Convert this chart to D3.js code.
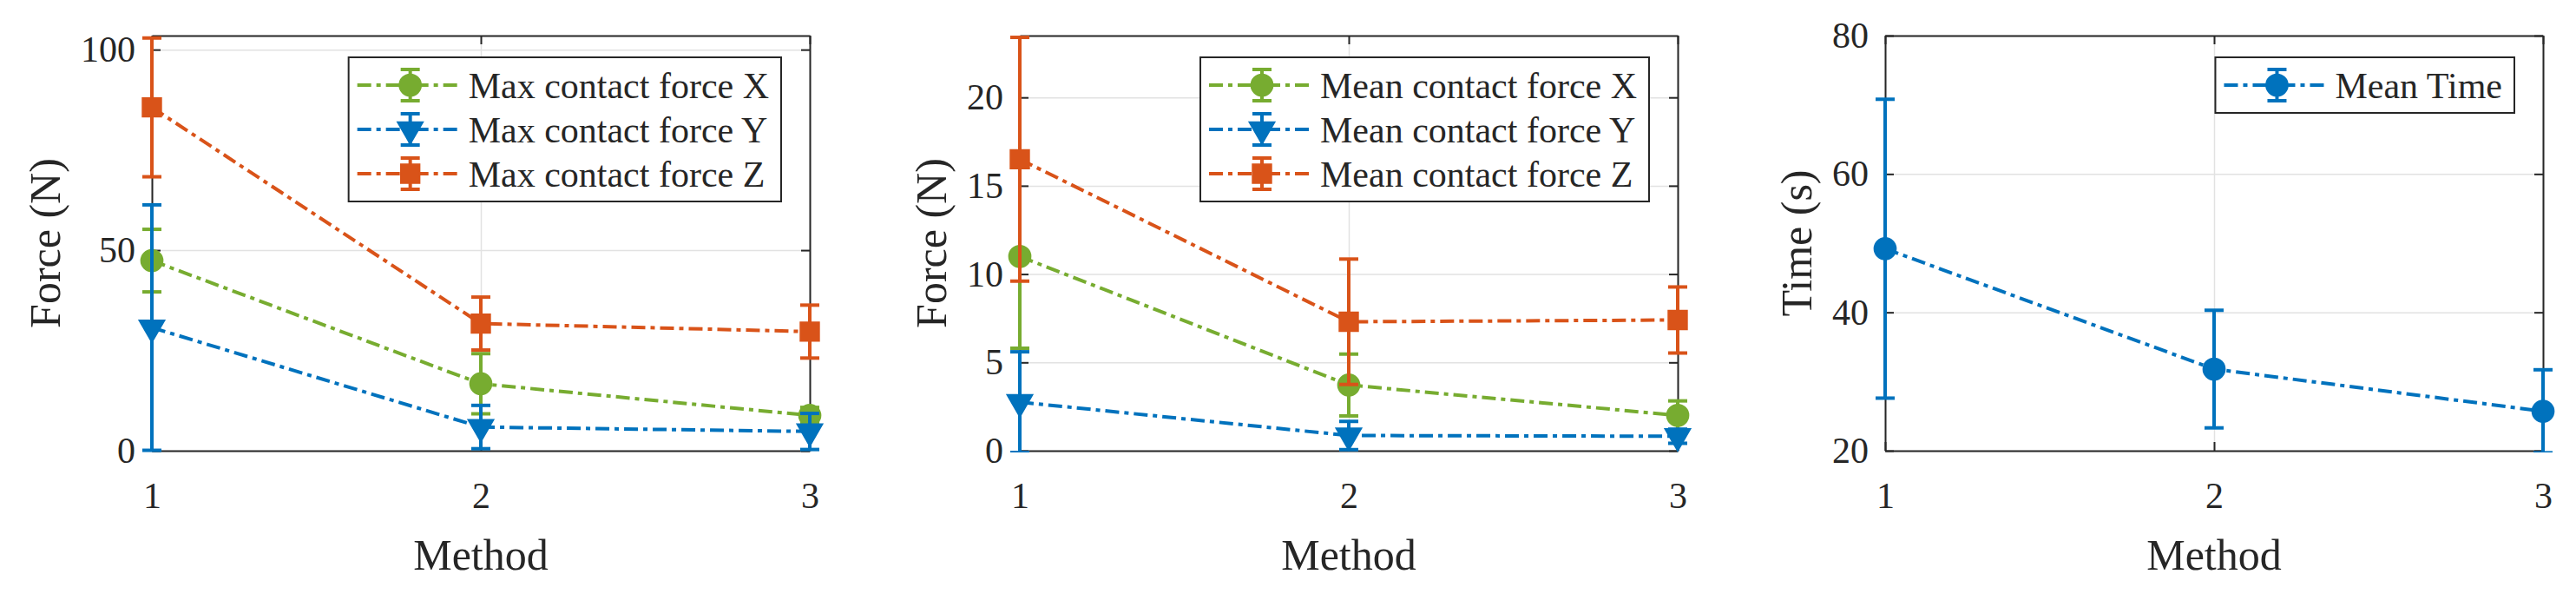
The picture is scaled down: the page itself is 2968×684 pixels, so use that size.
<!DOCTYPE html>
<html>
<head>
<meta charset="utf-8">
<script src="https://cdnjs.cloudflare.com/ajax/libs/d3/7.8.5/d3.min.js"></script>
<style>
  body { margin: 0; background: #fff; }
  svg text { font-family: "Liberation Serif", "Times New Roman", "DejaVu Serif", serif; fill: #262626; }
</style>
</head>
<body>
<div id="chart"></div>
<script>
// x categories
const methods = [1, 2, 3];
const xTicks = [1, 2, 3];

// panel 1: max contact force
const maxForceX = [47.4, 16.7, 8.8];
const maxForceXErr = [7.8, 7.5, 2.0];
const maxForceY = [30.7, 5.9, 4.8];
const maxForceYErr = [30.6, 5.4, 4.5];
const maxForceZ = [85.6, 31.7, 29.7];
const maxForceZErr = [17.3, 6.6, 6.6];
const yTicksMax = [0, 50, 100];

// panel 2: mean contact force
const meanForceX = [11.0, 3.72, 2.0];
const meanForceXErr = [5.2, 1.75, 0.82];
const meanForceY = [2.75, 0.86, 0.82];
const meanForceYErr = [2.85, 0.8, 0.4];
const meanForceZ = [16.5, 7.3, 7.4];
const meanForceZErr = [6.9, 3.55, 1.87];
const yTicksMean = [0, 5, 10, 15, 20];

// panel 3: mean time
const meanTime = [49.2, 31.8, 25.7];
const meanTimeErr = [21.6, 8.5, 6.0];
const yTicksTime = [20, 40, 60, 80];

const BLUE = "#0072BD", ORANGE = "#D95319", GREEN = "#77AC30";
const INK = "#262626";
const GRID = "#e2e2e2";

const W = 2968, H = 684;
const plotTop = 41, plotBottom = 519, plotW = 758;
const tickFont = 42, labelFont = 50;
const DASH = "16,6,5,6";

const svg = d3.select("#chart").append("svg")
  .attr("width", W)
  .attr("height", H);

const panels = [
  {
    left: 175, yDomain: [0, 103.5], yTicks: yTicksMax, yLabel: "Force (N)",
    series: [
      { name: "Max contact force X", values: maxForceX, errors: maxForceXErr, color: GREEN, marker: "circle" },
      { name: "Max contact force Y", values: maxForceY, errors: maxForceYErr, color: BLUE, marker: "triangle" },
      { name: "Max contact force Z", values: maxForceZ, errors: maxForceZErr, color: ORANGE, marker: "square" }
    ]
  },
  {
    left: 1175, yDomain: [0, 23.5], yTicks: yTicksMean, yLabel: "Force (N)",
    series: [
      { name: "Mean contact force X", values: meanForceX, errors: meanForceXErr, color: GREEN, marker: "circle" },
      { name: "Mean contact force Y", values: meanForceY, errors: meanForceYErr, color: BLUE, marker: "triangle" },
      { name: "Mean contact force Z", values: meanForceZ, errors: meanForceZErr, color: ORANGE, marker: "square" }
    ]
  },
  {
    left: 2172, yDomain: [20, 80], yTicks: yTicksTime, yLabel: "Time (s)",
    series: [
      { name: "Mean Time", values: meanTime, errors: meanTimeErr, color: BLUE, marker: "circle" }
    ]
  }
];

function markerPath(type) {
  if (type === "circle") return d3.symbol().type(d3.symbolCircle).size(500)();
  if (type === "square") return d3.symbol().type(d3.symbolSquare).size(480)();
  return d3.symbol().type(d3.symbolTriangle).size(380)();
}

function drawMarker(sel, type, color) {
  return sel.append("path")
    .attr("d", markerPath(type))
    .attr("transform", d => `translate(${d.x},${d.y})` + (type === "triangle" ? " rotate(180)" : ""))
    .attr("fill", color)
    .attr("stroke", color)
    .attr("stroke-width", 1.5);
}

panels.forEach((p, pi) => {
  const x = d3.scaleLinear().domain([1, 3]).range([p.left, p.left + plotW]);
  const y = d3.scaleLinear().domain(p.yDomain).range([plotBottom, plotTop]);
  const g = svg.append("g");

  // Grid
  g.append("g")
    .attr("class", "grid")
    .attr("transform", `translate(0,${plotBottom})`)
    .call(d3.axisBottom(x).tickValues(xTicks).tickSize(-(plotBottom - plotTop)).tickFormat(""))
    .call(s => s.select(".domain").remove());
  g.append("g")
    .attr("class", "grid")
    .attr("transform", `translate(${p.left},0)`)
    .call(d3.axisLeft(y).tickValues(p.yTicks).tickSize(-plotW).tickFormat(""))
    .call(s => s.select(".domain").remove());
  g.selectAll(".grid line").attr("stroke", GRID).attr("stroke-width", 1.5);

  // Axes (ticks inward, box on all sides)
  const axes = g.append("g");
  const xAxis = axes.append("g")
    .attr("transform", `translate(0,${plotBottom})`)
    .call(d3.axisBottom(x).tickValues(xTicks).tickSizeInner(-10).tickSizeOuter(0).tickPadding(36).tickFormat(d3.format("d")));
  const yAxis = axes.append("g")
    .attr("transform", `translate(${p.left},0)`)
    .call(d3.axisLeft(y).tickValues(p.yTicks).tickSizeInner(-10).tickSizeOuter(0).tickPadding(19).tickFormat(d3.format("d")));
  axes.append("g")
    .attr("transform", `translate(0,${plotTop})`)
    .call(d3.axisTop(x).tickValues(xTicks).tickSizeInner(-10).tickSizeOuter(0).tickFormat(""));
  axes.append("g")
    .attr("transform", `translate(${p.left + plotW},0)`)
    .call(d3.axisRight(y).tickValues(p.yTicks).tickSizeInner(-10).tickSizeOuter(0).tickFormat(""));

  axes.selectAll(".domain").attr("stroke", INK).attr("stroke-width", 2);
  axes.selectAll(".tick line").attr("stroke", INK).attr("stroke-width", 2);
  axes.selectAll(".tick text")
    .attr("font-family", "Liberation Serif")
    .attr("font-size", tickFont)
    .attr("fill", INK);

  // Axis labels
  let tickW = 0;
  yAxis.selectAll(".tick text").each(function () { tickW = Math.max(tickW, this.getComputedTextLength()); });
  svg.append("text")
    .attr("transform", `translate(${p.left - tickW - 61},${(plotTop + plotBottom) / 2}) rotate(-90)`)
    .attr("text-anchor", "middle")
    .attr("dy", "0.35em")
    .attr("font-size", labelFont)
    .text(p.yLabel);
  svg.append("text")
    .attr("x", p.left + plotW / 2)
    .attr("y", 656)
    .attr("text-anchor", "middle")
    .attr("font-size", labelFont)
    .text("Method");

  // Clip region for data
  const clipId = "clip" + pi;
  svg.append("clipPath").attr("id", clipId)
    .append("rect")
    .attr("x", p.left - 40).attr("y", plotTop - 2)
    .attr("width", plotW + 80).attr("height", plotBottom - plotTop + 4);
  const data = g.append("g").attr("clip-path", `url(#${clipId})`);

  p.series.forEach(s => {
    const pts = methods.map((m, i) => ({
      x: x(m), y: y(s.values[i]),
      lo: y(s.values[i] - s.errors[i]), hi: y(s.values[i] + s.errors[i])
    }));
    const sg = data.append("g");
    sg.append("path")
      .datum(pts)
      .attr("fill", "none")
      .attr("stroke", s.color)
      .attr("stroke-width", 4)
      .attr("stroke-dasharray", DASH)
      .attr("d", d3.line().x(d => d.x).y(d => d.y));
    sg.selectAll(".eb").data(pts).enter().append("line")
      .attr("x1", d => d.x).attr("x2", d => d.x)
      .attr("y1", d => d.lo).attr("y2", d => d.hi)
      .attr("stroke", s.color).attr("stroke-width", 4);
    ["lo", "hi"].forEach(k => {
      sg.selectAll(".cap-" + k).data(pts).enter().append("line")
        .attr("x1", d => d.x - 11).attr("x2", d => d.x + 11)
        .attr("y1", d => d[k]).attr("y2", d => d[k])
        .attr("stroke", s.color).attr("stroke-width", 4);
    });
    drawMarker(sg.selectAll(".mk").data(pts).enter(), s.marker, s.color);
  });

  // Legend
  const lg = g.append("g");
  const rowH = 51, boxTop = 66;
  const texts = p.series.map((s, i) => lg.append("text")
    .attr("y", boxTop + 6.5 + rowH / 2 + i * rowH)
    .attr("dy", "0.35em")
    .attr("font-size", tickFont)
    .text(s.name));
  let textW = 0;
  texts.forEach(t => { textW = Math.max(textW, t.node().getComputedTextLength()); });
  const boxRight = p.left + plotW - 33;
  const textX = boxRight - 14 - textW;
  const boxLeft = textX - 138;
  texts.forEach(t => t.attr("x", textX));
  lg.insert("rect", "text")
    .attr("x", boxLeft).attr("y", boxTop)
    .attr("width", boxRight - boxLeft)
    .attr("height", p.series.length * rowH + 13)
    .attr("fill", "#fff")
    .attr("stroke", INK)
    .attr("stroke-width", 2);
  p.series.forEach((s, i) => {
    const cy = boxTop + 6.5 + rowH / 2 + i * rowH;
    const cx = boxLeft + 71;
    lg.append("line")
      .attr("x1", boxLeft + 10).attr("x2", boxLeft + 128)
      .attr("y1", cy).attr("y2", cy)
      .attr("stroke", s.color).attr("stroke-width", 4)
      .attr("stroke-dasharray", DASH);
    lg.append("line")
      .attr("x1", cx).attr("x2", cx).attr("y1", cy - 18).attr("y2", cy + 18)
      .attr("stroke", s.color).attr("stroke-width", 4);
    [-18, 18].forEach(o => lg.append("line")
      .attr("x1", cx - 11).attr("x2", cx + 11).attr("y1", cy + o).attr("y2", cy + o)
      .attr("stroke", s.color).attr("stroke-width", 4));
    drawMarker(lg.selectAll(null).data([{ x: cx, y: cy }]).enter(), s.marker, s.color);
  });
});
</script>
</body>
</html>
